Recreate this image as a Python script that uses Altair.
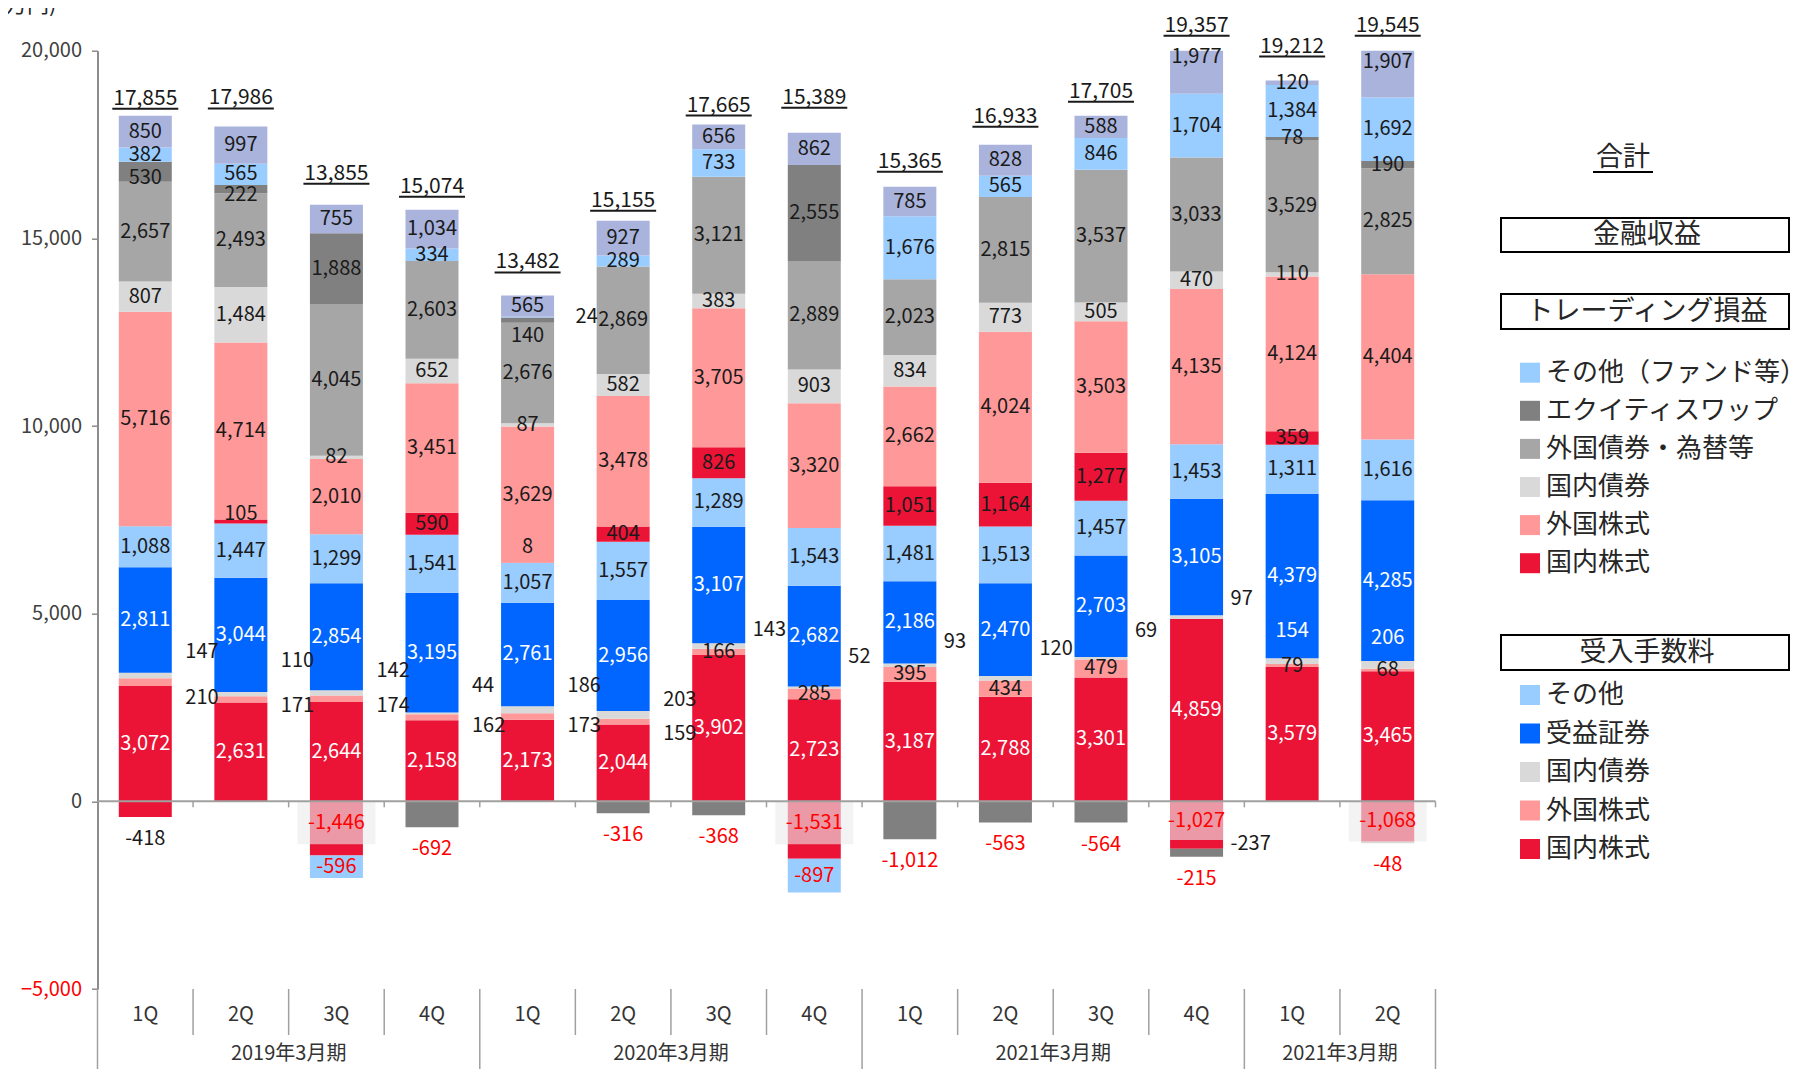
import json
import altair as alt
import pandas as pd

# ---------------- data ----------------
quarter_labels = ["1Q", "2Q", "3Q", "4Q", "1Q", "2Q", "3Q", "4Q", "1Q", "2Q", "3Q", "4Q", "1Q", "2Q"]
fiscal_groups = ["2019年3月期", "2020年3月期", "2021年3月期", "2021年3月期"]
group_sizes = [4, 4, 4, 2]
totals = [17855, 17986, 13855, 15074, 13482, 15155, 17665, 15389, 15365, 16933, 17705, 19357, 19212, 19545]

# 受入手数料
fee_dom_eq = [3072, 2631, 2644, 2158, 2173, 2044, 3902, 2723, 3187, 2788, 3301, 4859, 3579, 3465]
fee_for_eq = [210, 171, 174, 162, 173, 159, 166, 285, 395, 434, 479, None, 79, 68]
fee_dom_bd = [147, 110, 142, 44, 186, 203, 143, 52, 93, 120, 69, 97, 154, 206]
fee_funds = [2811, 3044, 2854, 3195, 2761, 2956, 3107, 2682, 2186, 2470, 2703, 3105, 4379, 4285]
fee_other = [1088, 1447, 1299, 1541, 1057, 1557, 1289, 1543, 1481, 1513, 1457, 1453, 1311, 1616]
# トレーディング損益
trd_dom_eq = [-418, 105, -1446, 590, 8, 404, 826, -1531, 1051, 1164, 1277, -1027, 359, -1068]
trd_dom_eq2 = [None, None, None, None, None, None, None, None, None, None, None, -237, None, None]
trd_for_eq = [5716, 4714, 2010, 3451, 3629, 3478, 3705, 3320, 2662, 4024, 3503, 4135, 4124, 4404]
trd_dom_bd = [807, 1484, 82, 652, 87, 582, 383, 903, 834, 773, 505, 470, 110, -48]
trd_for_bd = [2657, 2493, 4045, 2603, 2676, 2869, 3121, 2889, 2023, 2815, 3537, 3033, 3529, 2825]
trd_swap = [530, 222, 1888, -692, 140, -316, -368, 2555, -1012, -563, -564, -215, 78, 190]
trd_other = [382, 565, -596, 334, 24, 289, 733, -897, 1676, 565, 846, 1704, 1384, 1692]
# 金融収益
fin_rev = [850, 997, 755, 1034, 565, 927, 656, 862, 785, 828, 588, 1977, 120, 1907]

legend_trading = ["その他（ファンド等）", "エクイティスワップ", "外国債券・為替等", "国内債券", "外国株式", "国内株式"]
legend_fees = ["その他", "受益証券", "国内債券", "外国株式", "国内株式"]

# ---------------- styles ----------------
FONT = "Noto Sans CJK JP"
RED = "#EB1436"
PINK = "#FF9999"
LGRAY = "#D9D9D9"
BLUE = "#0066FF"
LBLUE = "#99CCFF"
GRAY = "#A6A6A6"
DGRAY = "#808080"
LAV = "#A9B3DC"
BLACK = "#1A1A1A"
WHITE = "#FFFFFF"
LRED = "#FF0000"
SEP = "#A0A0A0"

W = 1338.0
H = 938.3
N = len(quarter_labels)
YMAX = 20000
UPP = 25000.0 / H  # data units per pixel

series = [
    ("fee_dom_eq", fee_dom_eq, RED),
    ("fee_for_eq", fee_for_eq, PINK),
    ("fee_dom_bd", fee_dom_bd, LGRAY),
    ("fee_funds", fee_funds, BLUE),
    ("fee_other", fee_other, LBLUE),
    ("trd_dom_eq", trd_dom_eq, RED),
    ("trd_dom_eq2", trd_dom_eq2, RED),
    ("trd_for_eq", trd_for_eq, PINK),
    ("trd_dom_bd", trd_dom_bd, LGRAY),
    ("trd_for_bd", trd_for_bd, GRAY),
    ("trd_swap", trd_swap, DGRAY),
    ("trd_other", trd_other, LBLUE),
    ("fin_rev", fin_rev, LAV),
]
keys = [s[0] for s in series]
colors = [s[2] for s in series]

# label layout tweaks (pixels; positive = up)
lgray_up = [23, 33, 22, 27, 24, 15, 16, 30, 23, 29, 27, 18, 30, 27]
pink_down = [16, 7, 7, 9, 9, 12]
total_gap = [7, 18, 21, 13, 23, 10, 9, 25, 15, 18, 14, 15, 24, 15]
nudges = {(1, "trd_dom_eq"): 8, (4, "trd_dom_eq"): 16, (4, "trd_swap"): -16,
          (0, "trd_swap"): -6, (1, "trd_swap"): -6}
BOX_PX = 43

bars, lab_in, lab_below, lab_box, box_wide, box_narrow, tot_rows = [], [], [], [], [], [], []
lab_ra, lab_rb, lab_rc = [], [], []
for i in range(N):
    pos = 0.0
    neg = 0.0
    below_pending = []
    right_list = lab_ra if i < 6 else lab_rb
    for key, vals, col in series:
        v = vals[i]
        if not v:
            continue
        if v > 0:
            y0, y1 = pos, pos + v
            pos = y1
        else:
            y0, y1 = neg, neg + v
            neg = y1
        mid = (y0 + y1) / 2
        bars.append({"pid": i, "key": key, "y0": y0, "y1": y1})
        txt = f"{v:,}"
        if v < 0:
            if key == "trd_dom_eq" and v < -1000:
                bb = max(v, -BOX_PX * UPP)
                (box_narrow if i == 11 else box_wide).append({"pid": i, "b0": 0.0, "b1": bb})
                lab_box.append({"pid": i, "ly": bb / 2, "t": txt, "c": LRED})
            elif key == "trd_other":
                lab_in.append({"pid": i, "ly": mid, "t": txt, "c": LRED})
            elif key == "trd_dom_eq2":
                lab_rb.append({"pid": i, "ly": mid, "t": txt, "c": BLACK})
            elif key == "trd_dom_eq":
                below_pending.append((txt, BLACK))
            else:
                below_pending.append((txt, LRED))
        else:
            if key == "fee_dom_bd":
                if i < 12:
                    right_list.append({"pid": i, "ly": mid + lgray_up[i] * UPP, "t": txt, "c": BLACK})
                else:
                    lab_in.append({"pid": i, "ly": mid + lgray_up[i] * UPP, "t": txt, "c": WHITE})
            elif key == "fee_for_eq" and i < 6:
                right_list.append({"pid": i, "ly": mid - pink_down[i] * UPP, "t": txt, "c": BLACK})
            elif key == "trd_other" and i == 4:
                lab_rc.append({"pid": i, "ly": mid, "t": txt, "c": BLACK})
            else:
                c = WHITE if key in ("fee_dom_eq", "fee_funds") else BLACK
                ly = mid + nudges.get((i, key), 0) * UPP
                lab_in.append({"pid": i, "ly": ly, "t": txt, "c": c})
    for txt, c in below_pending:
        lab_below.append({"pid": i, "ly": neg - 22 * UPP, "t": txt, "c": c})
    tot_rows.append({"pid": i, "ly": min(pos, YMAX) + total_gap[i] * UPP, "t": f"{totals[i]:,}"})

# ---------------- scales / axes ----------------
xscale = alt.Scale(type="band", domain=list(range(N)), paddingInner=0, paddingOuter=0)
xaxis = alt.Axis(
    labelExpr=json.dumps(quarter_labels, ensure_ascii=False) + "[datum.value]",
    ticks=False, domain=False, labelAngle=0, labelPadding=15,
    labelFontSize=20, labelFont=FONT, labelColor="#333333", title=None,
)
yscale = alt.Scale(domain=[-5000, YMAX], nice=False, zero=False)
yaxis = alt.Axis(
    values=[-5000, 0, 5000, 10000, 15000, 20000], format=",d", grid=False,
    domainColor="#8C8C8C", domainWidth=2, tickColor="#8C8C8C", tickSize=6, tickWidth=1.5,
    labelFontSize=20, labelFont=FONT, labelPadding=10,
    labelColor={"condition": {"test": "datum.value < 0", "value": "#FF0000"}, "value": "#404040"},
    title=None,
)


def X(bp=None):
    if bp is None:
        return alt.X("pid:O", scale=xscale, axis=xaxis)
    return alt.X("pid:O", scale=xscale, axis=xaxis, bandPosition=bp)


def Y(f):
    return alt.Y(f, type="quantitative", scale=yscale, axis=yaxis)


df_bars = pd.DataFrame(bars)
bar_layer = alt.Chart(df_bars).mark_bar(size=53, clip=True).encode(
    x=X(), y=Y("y1"), y2=alt.Y2("y0"),
    color=alt.Color("key:N", scale=alt.Scale(domain=keys, range=colors), legend=None),
)

box_w = alt.Chart(pd.DataFrame(box_wide)).mark_bar(size=78, color="#EBEBEB", opacity=0.62).encode(
    x=X(), y=Y("b0"), y2=alt.Y2("b1"))
box_n = alt.Chart(pd.DataFrame(box_narrow)).mark_bar(size=53, color="#EBEBEB", opacity=0.62).encode(
    x=X(), y=Y("b0"), y2=alt.Y2("b1"))

zero_line = alt.Chart(pd.DataFrame({"z": [0.0]})).mark_rule(color="#A0A0A0", strokeWidth=2).encode(
    y=Y("z"), x=alt.value(0), x2=alt.value(W))

tick_df = pd.DataFrame({"pid": list(range(1, N)), "z0": 0.0, "z1": -6 * UPP})
zero_ticks = alt.Chart(tick_df).mark_rule(color="#A0A0A0", strokeWidth=1.5).encode(
    x=X(0), y=Y("z0"), y2=alt.Y2("z1"))
zero_tick_end = alt.Chart(pd.DataFrame({"pid": [N - 1], "z0": [0.0], "z1": [-6 * UPP]})).mark_rule(
    color="#A0A0A0", strokeWidth=1.5).encode(x=X(1), y=Y("z0"), y2=alt.Y2("z1"))


def text_layer(rows, **kw):
    return alt.Chart(pd.DataFrame(rows)).mark_text(font=FONT, fontSize=20, baseline="middle", **kw).encode(
        x=X(), y=Y("ly"), text="t:N", color=alt.Color("c:N", scale=None))


t_in = text_layer(lab_in, align="center")
t_ra = text_layer(lab_ra, align="left", dx=40)
t_rb = text_layer(lab_rb, align="left", dx=34)
t_rc = text_layer(lab_rc, align="left", dx=48)
t_below = text_layer(lab_below, align="center")
t_box = text_layer(lab_box, align="center")

df_tot = pd.DataFrame(tot_rows)
t_tot = alt.Chart(df_tot).mark_text(font=FONT, fontSize=21, baseline="alphabetic", dy=-4, color=BLACK).encode(
    x=X(), y=Y("ly"), text="t:N")
u_tot = alt.Chart(df_tot).mark_tick(size=66, thickness=2, color=BLACK, opacity=1).encode(x=X(), y=Y("ly"))

# category separators below the plot
starts = []
s = 0
for g in group_sizes:
    starts.append(s)
    s += g
q_bounds = [p for p in range(1, N) if p not in starts]
sep_q = alt.Chart(pd.DataFrame({"pid": q_bounds})).mark_rule(color=SEP, strokeWidth=1.5).encode(
    x=X(0), y=alt.value(H), y2=alt.value(H + 46))
sep_g = alt.Chart(pd.DataFrame({"pid": starts})).mark_rule(color=SEP, strokeWidth=1.5).encode(
    x=X(0), y=alt.value(H), y2=alt.value(H + 90))
sep_end = alt.Chart(pd.DataFrame({"pid": [N - 1]})).mark_rule(color=SEP, strokeWidth=1.5).encode(
    x=X(1), y=alt.value(H), y2=alt.value(H + 90))

grp_rows = [{"pid": st + sz // 2, "t": name} for name, st, sz in zip(fiscal_groups, starts, group_sizes)]
t_grp = alt.Chart(pd.DataFrame(grp_rows)).mark_text(font=FONT, fontSize=20, baseline="middle", color="#333333").encode(
    x=X(0), y=alt.value(H + 65), text="t:N")

# ---------------- legend / annotations (pixel positions) ----------------
one = pd.DataFrame({"a": [0]})
OX, OY = 97.5, 50.7  # page position of the plot origin


def ltext(txt, x, y, size=26, align="left"):
    return alt.Chart(one).mark_text(text=txt, font=FONT, fontSize=size, align=align, baseline="middle",
                                    color="#262626").encode(x=alt.value(x - OX), y=alt.value(y - OY))


def lbox(y1, y2):
    return alt.Chart(one).mark_rect(fill="white", stroke="black", strokeWidth=2).encode(
        x=alt.value(1501 - OX), x2=alt.value(1789 - OX), y=alt.value(y1 - OY), y2=alt.value(y2 - OY))


def lswatch(color, y):
    return alt.Chart(one).mark_square(size=400, color=color, opacity=1).encode(
        x=alt.value(1530 - OX), y=alt.value(y - OY))


legend_layers = [
    ltext("合計", 1623, 158, size=27, align="center"),
    alt.Chart(one).mark_rule(color="black", strokeWidth=2).encode(
        x=alt.value(1593 - OX), x2=alt.value(1653 - OX), y=alt.value(172 - OY)),
    lbox(218, 252), ltext("金融収益", 1647, 235, size=27, align="center"),
    lbox(294, 329), ltext("トレーディング損益", 1647, 311.5, size=27, align="center"),
    lbox(635, 670), ltext("受入手数料", 1647, 652.5, size=27, align="center"),
]
trading_colors = [LBLUE, DGRAY, GRAY, LGRAY, PINK, RED]
fee_colors = [LBLUE, BLUE, LGRAY, PINK, RED]
for k, (name, c) in enumerate(zip(legend_trading, trading_colors)):
    yy = 372.7 + k * 38.1
    legend_layers += [lswatch(c, yy), ltext(name, 1546, yy)]
for k, (name, c) in enumerate(zip(legend_fees, fee_colors)):
    yy = 695 + k * 38.5
    legend_layers += [lswatch(c, yy), ltext(name, 1546, yy)]

unit_title = alt.Chart(one).mark_text(text="(百万円)", font=FONT, fontSize=22, align="left", baseline="middle",
                                      color="#262626").encode(x=alt.value(-122), y=alt.value(-46))

chart = alt.layer(
    bar_layer, box_w, box_n, zero_line, zero_ticks, zero_tick_end,
    t_in, t_ra, t_rb, t_rc, t_below, t_box, t_tot, u_tot,
    sep_q, sep_g, sep_end, t_grp, unit_title, *legend_layers,
).properties(
    width=W, height=H,
    autosize=alt.AutoSizeParams(type="none"),
    padding={"left": 89.5, "top": 42.7, "right": 354.5, "bottom": 80},
).configure_view(stroke=None)

chart.save("out.html", embed_options={"renderer": "svg", "actions": False})
